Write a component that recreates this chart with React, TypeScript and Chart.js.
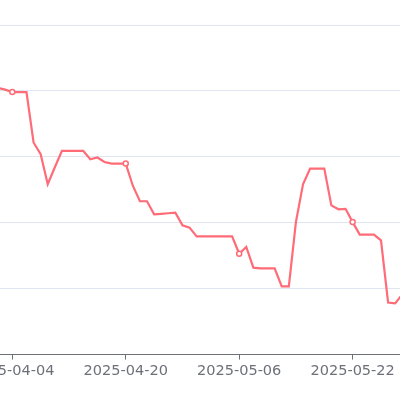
import { useEffect, useRef } from "react";
import { Chart, registerables } from "chart.js";

Chart.register(...registerables);

// one value per day, 2025-04-02 .. 2025-05-29
const dates = [
  "2025-04-02", "2025-04-03", "2025-04-04", "2025-04-05", "2025-04-06", "2025-04-07",
  "2025-04-08", "2025-04-09", "2025-04-10", "2025-04-11", "2025-04-12", "2025-04-13",
  "2025-04-14", "2025-04-15", "2025-04-16", "2025-04-17", "2025-04-18", "2025-04-19",
  "2025-04-20", "2025-04-21", "2025-04-22", "2025-04-23", "2025-04-24", "2025-04-25",
  "2025-04-26", "2025-04-27", "2025-04-28", "2025-04-29", "2025-04-30", "2025-05-01",
  "2025-05-02", "2025-05-03", "2025-05-04", "2025-05-05", "2025-05-06", "2025-05-07",
  "2025-05-08", "2025-05-09", "2025-05-10", "2025-05-11", "2025-05-12", "2025-05-13",
  "2025-05-14", "2025-05-15", "2025-05-16", "2025-05-17", "2025-05-18", "2025-05-19",
  "2025-05-20", "2025-05-21", "2025-05-22", "2025-05-23", "2025-05-24", "2025-05-25",
  "2025-05-26", "2025-05-27", "2025-05-28", "2025-05-29",
];

const values = [
  202.2, 201.0, 199.1, 199.1, 199.1, 160.9,
  152.0, 129.2, 142.1, 154.5, 154.5, 154.5,
  154.5, 148.2, 149.5, 146.1, 144.9, 144.9,
  144.9, 128.1, 116.3, 116.3, 106.4, 106.8,
  107.2, 107.7, 98.0, 96.3, 89.7, 89.7,
  89.7, 89.7, 89.7, 89.7, 76.5, 81.7,
  65.9, 65.4, 65.4, 65.4, 51.7, 51.7,
  100.5, 129.2, 141.1, 141.1, 141.1, 113.2,
  110.2, 110.6, 100.5, 91.0, 91.0, 91.0,
  86.6, 39.5, 38.8, 45.6,
];

// indices of the labelled dates on the x axis
const tickIndices = [2, 18, 34, 50];

export default function App() {
  const chartRef = useRef<HTMLCanvasElement>(null);
  const chartInstance = useRef<Chart | null>(null);

  useEffect(() => {
    document.body.style.margin = "0";
    if (!chartRef.current) return;

    if (chartInstance.current) {
      chartInstance.current.destroy();
    }

    const ctx = chartRef.current.getContext("2d");
    if (!ctx) return;

    const red = "#ff6b76";

    chartInstance.current = new Chart(ctx, {
      type: "line",
      data: {
        datasets: [
          {
            data: values.map((v, i) => ({ x: i, y: v })),
            borderColor: red,
            borderWidth: 2.2,
            backgroundColor: "#ffffff",
            pointBorderColor: red,
            pointBackgroundColor: "#ffffff",
            pointBorderWidth: 1.5,
            pointRadius: (c: any) => (tickIndices.includes(c.dataIndex) ? 2.5 : 0),
            tension: 0,
            fill: false,
          },
        ],
      },
      options: {
        animation: false,
        responsive: true,
        maintainAspectRatio: false,
        layout: { padding: { top: 25, bottom: 17, left: 0, right: 0 } },
        plugins: {
          legend: { display: false },
          tooltip: { enabled: false },
        },
        scales: {
          x: {
            type: "linear",
            min: 0.265,
            max: 56.68,
            afterBuildTicks: (scale: any) => {
              scale.ticks = tickIndices.map((v) => ({ value: v }));
            },
            afterFit: (scale: any) => {
              scale.paddingLeft = 0;
              scale.paddingRight = 0;
            },
            grid: {
              drawOnChartArea: false,
              drawTicks: true,
              tickLength: 5,
              color: "#6e7079",
            },
            border: { color: "#6e7079", width: 1 },
            ticks: {
              autoSkip: false,
              maxRotation: 0,
              padding: 3,
              color: "#6e7079",
              font: { family: "DejaVu Sans", size: 14.5 },
              callback: (value: any) => dates[Number(value)] ?? "",
            },
          },
          y: {
            min: 0,
            max: 250,
            ticks: { display: false, stepSize: 50 },
            grid: { color: "#e0e6f1", drawTicks: false },
            border: { display: false },
          },
        },
      },
    });

    return () => {
      if (chartInstance.current) {
        chartInstance.current.destroy();
        chartInstance.current = null;
      }
    };
  }, []);

  return (
    <div style={{ width: 400, height: 400, position: "relative" }}>
      <canvas ref={chartRef} />
    </div>
  );
}
